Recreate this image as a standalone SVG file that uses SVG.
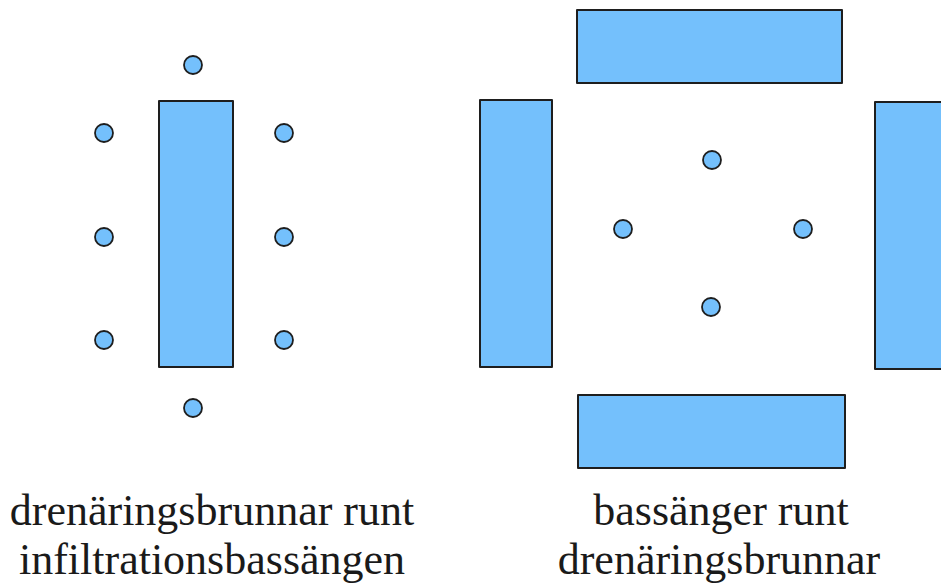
<svg xmlns="http://www.w3.org/2000/svg" width="941" height="585" viewBox="0 0 941 585">
  <style>
    .basin { fill: #74c0fc; stroke: #1e1e1e; stroke-width: 2; stroke-linejoin: round; }
    .well { fill: #74c0fc; stroke: #1e1e1e; stroke-width: 1.8; }
    .label { font-family: "Liberation Serif", "DejaVu Serif", serif; font-size: 44px; fill: #1a1a1a; text-anchor: middle; }
  </style>
  <rect width="941" height="585" fill="#ffffff"/>

  <!-- Left layout: wells around an infiltration basin -->
  <g id="left-basin"><rect class="basin" x="159" y="101" width="74" height="266"/></g>
  <g id="left-wells">
    <circle class="well" cx="193" cy="65" r="9"/>
    <circle class="well" cx="104" cy="133" r="9"/>
    <circle class="well" cx="104" cy="237" r="9"/>
    <circle class="well" cx="104" cy="340" r="9"/>
    <circle class="well" cx="284" cy="133" r="9"/>
    <circle class="well" cx="284" cy="237" r="9"/>
    <circle class="well" cx="284" cy="340" r="9"/>
    <circle class="well" cx="193" cy="408" r="9"/>
  </g>

  <!-- Right layout: basins around drainage wells -->
  <g id="basin-top"><rect class="basin" x="577" y="10" width="265" height="73"/></g>
  <g id="basin-left"><rect class="basin" x="480" y="100" width="72" height="267"/></g>
  <g id="basin-right"><rect class="basin" x="875" y="102" width="72" height="267"/></g>
  <g id="basin-bottom"><rect class="basin" x="578" y="395" width="267" height="73"/></g>
  <g id="right-wells">
    <circle class="well" cx="712" cy="160" r="9"/>
    <circle class="well" cx="623" cy="229" r="9"/>
    <circle class="well" cx="803" cy="229" r="9"/>
    <circle class="well" cx="711" cy="307" r="9"/>
  </g>

  <g id="connectors"></g>

  <g id="captions">
    <text class="label" x="212" y="525">drenäringsbrunnar runt</text>
    <text class="label" x="212" y="574">infiltrationsbassängen</text>
    <text class="label" x="721" y="525">bassänger runt</text>
    <text class="label" x="719" y="574">drenäringsbrunnar</text>
  </g>
</svg>
